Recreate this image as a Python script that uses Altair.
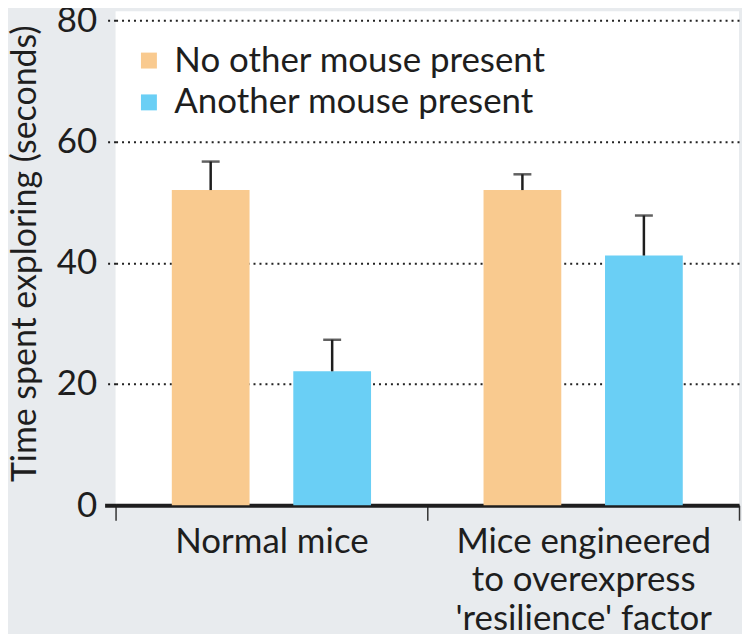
import altair as alt
import pandas as pd

groups = ["Normal mice", "Mice engineered\nto overexpress\n'resilience' factor"]
conditions = ["No other mouse present", "Another mouse present"]
colors = ["#f9ca8f", "#6acff5"]

group_col = [groups[0], groups[0], groups[1], groups[1]]
cond_col = [conditions[0], conditions[1], conditions[0], conditions[1]]
means = [52.0, 22.1, 52.0, 41.2]
err_top = [56.7, 27.3, 54.6, 47.8]

df = pd.DataFrame({"group": group_col, "condition": cond_col,
                   "mean": means, "err": err_top})

FONT = "Lato"
INK = "#1e1e1e"

x_enc = alt.X("group:N", sort=groups, title=None,
              scale=alt.Scale(paddingInner=0, paddingOuter=0),
              axis=alt.Axis(labelExpr="split(datum.label, '\\n')",
                            labelAngle=0, labelFontSize=35, labelLineHeight=39,
                            labelColor=INK, labelFont=FONT, labelPadding=4,
                            labelBaseline="top", labelLimit=0,
                            domainColor=INK, domainWidth=4,
                            tickBand="extent", tickSize=15, tickWidth=1.5,
                            tickColor="#333333"))
xo_enc = alt.XOffset("condition:N", sort=conditions,
                     scale=alt.Scale(paddingInner=0.36, paddingOuter=0.463))
y_scale = alt.Scale(domain=[0, 81.5], nice=False)

bars = alt.Chart(df).mark_bar().encode(
    x=x_enc,
    xOffset=xo_enc,
    y=alt.Y("mean:Q", scale=y_scale, title="Time spent exploring (seconds)",
            axis=alt.Axis(values=[0, 20, 40, 60, 80], domain=False,
                          labelFontSize=35, labelColor=INK, labelFont=FONT,
                          labelPadding=8,
                          grid=True, gridColor="#222222", gridWidth=2,
                          gridDash=[2, 4],
                          tickSize=11,
                          tickColor=INK,
                          tickWidth={"condition": {"test": "datum.value === 0", "value": 4}, "value": 2},
                          tickDash={"condition": {"test": "datum.value === 0", "value": [1, 0]}, "value": [2, 4]},
                          titleFontSize=34, titleFont=FONT, titleColor=INK,
                          titleFontWeight="normal", titleLimit=0,
                          titleAngle=270, titleX=-90, titleY=243,
                          titleAlign="center", titleBaseline="middle")),
    color=alt.Color("condition:N", sort=conditions,
                    scale=alt.Scale(domain=conditions, range=colors),
                    legend=alt.Legend(title=None, orient="none", legendX=16,
                                      legendY=32, symbolType="square",
                                      symbolSize=256, symbolStrokeWidth=0,
                                      labelFontSize=35, labelFont=FONT,
                                      labelColor=INK, labelOffset=8,
                                      labelLimit=0,
                                      rowPadding=6, padding=0)),
)

stems = alt.Chart(df).mark_rule(color=INK, strokeWidth=2.5).encode(
    x=alt.X("group:N", sort=groups),
    xOffset=xo_enc,
    y=alt.Y("mean:Q", scale=y_scale),
    y2="err:Q",
)

caps = alt.Chart(df).mark_tick(color=INK, thickness=2.5, size=18,
                               orient="horizontal").encode(
    x=alt.X("group:N", sort=groups),
    xOffset=xo_enc,
    y=alt.Y("err:Q", scale=y_scale),
)

chart = alt.layer(bars, stems, caps).properties(
    width=626, height=496,
    autosize=alt.AutoSizeParams(type="none"),
    padding={"left": 108, "top": 2, "right": 3, "bottom": 128},
    background="#e8ebee",
).configure_view(fill="white", strokeWidth=0).configure_axis(
    labelFontWeight="normal"
)

chart.save("out.html", embed_options={"renderer": "svg", "actions": False})
